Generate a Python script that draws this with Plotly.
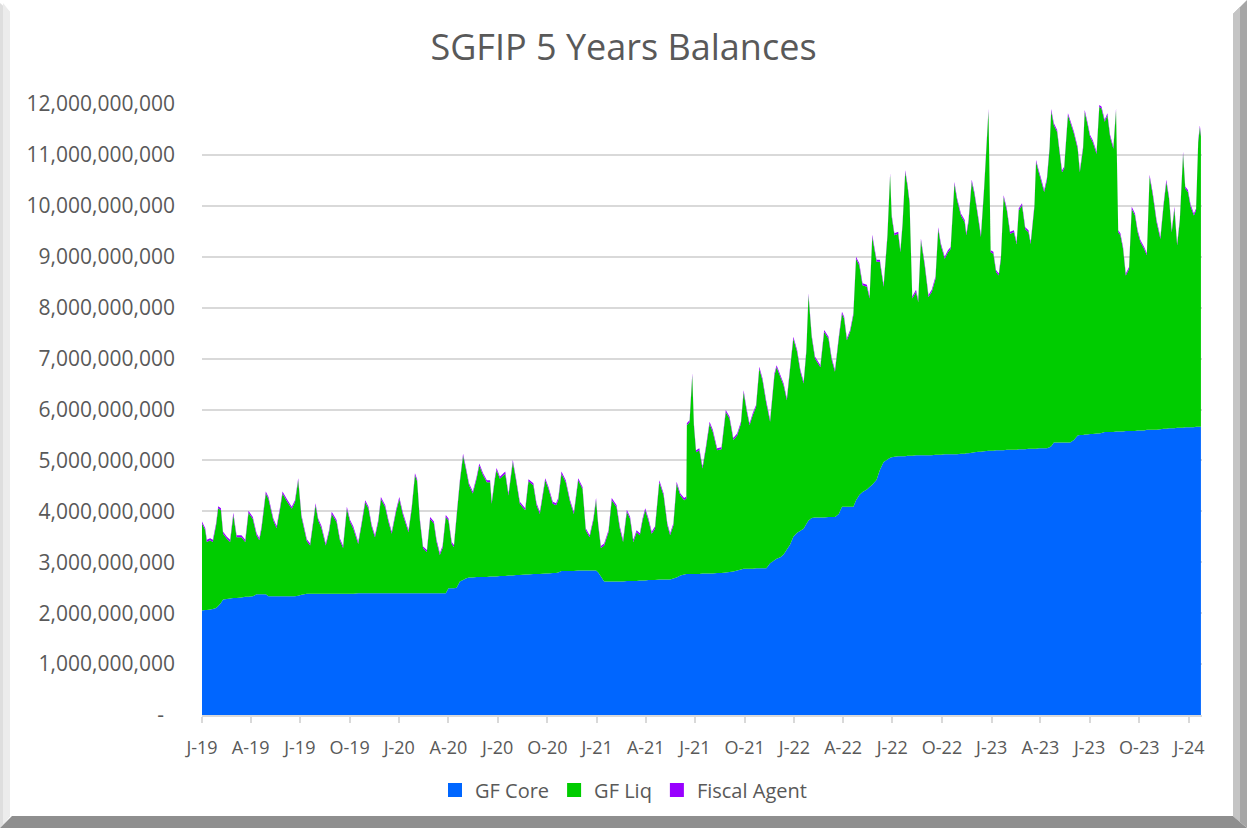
import pandas as pd
import plotly.graph_objects as go

# days since 2019-01-01 for each sampled point
day_offset = [
    0, 6, 9, 15, 20, 26, 30, 35, 39, 46, 52, 58, 64, 73, 80, 86, 94, 101, 106, 110,
    118, 123, 132, 138, 144, 149, 157, 166, 172, 178, 184, 194, 200, 206, 210, 215, 221, 229, 235, 240,
    249, 255, 261, 268, 274, 280, 289, 295, 302, 308, 314, 320, 326, 331, 339, 345, 351, 359, 365, 372,
    382, 388, 394, 398, 403, 409, 416, 422,
    429, 434, 440, 445, 451, 456, 462, 466, 471, 477, 483, 488, 494, 501, 508, 513, 520, 527, 533, 536,
    542, 545, 551, 561, 567, 575, 581, 588, 598, 604, 613, 619, 625, 635, 641, 649, 655, 659, 665, 673,
    681, 688, 696, 704, 710, 717, 724, 729, 733, 738, 744, 752, 758, 767, 773, 779, 786, 792, 798, 804,
    810, 815, 820, 826, 832, 838, 846, 854, 861, 866, 872, 878, 885, 892, 896,
    897, 902, 907, 910, 914, 920, 926, 932, 939, 945, 953, 961, 969, 976, 983, 990, 997, 1002, 1008, 1013,
    1019, 1025, 1031, 1037, 1044, 1051, 1059, 1063, 1070, 1076, 1082, 1088, 1094, 1101, 1107, 1113, 1118, 1122, 1128, 1134,
    1144, 1151, 1159, 1165, 1171, 1178, 1184, 1188, 1193, 1199, 1205, 1210, 1216, 1222, 1230, 1235,
    1240, 1248, 1254, 1261, 1268, 1273, 1276, 1281, 1288, 1292, 1296, 1301, 1305, 1309, 1314, 1321, 1325, 1330, 1337, 1344,
    1350, 1357, 1362, 1367, 1374, 1380, 1385, 1392, 1397, 1404, 1411, 1414, 1418, 1424, 1429, 1436, 1441, 1447, 1455, 1459,
    1464, 1469, 1474, 1478, 1483, 1489, 1495, 1502, 1507, 1511, 1517, 1523, 1529, 1533, 1540, 1543, 1548, 1553, 1558, 1563,
    1568, 1571, 1576, 1582, 1586, 1591, 1595, 1602, 1606, 1613, 1620, 1624, 1630, 1633, 1638, 1643, 1648, 1655, 1660, 1664,
    1670, 1675, 1680, 1686, 1691, 1695, 1699, 1704, 1709, 1715, 1720, 1726, 1731, 1736, 1743, 1748, 1753, 1759, 1766, 1773,
    1779, 1784, 1789, 1794, 1799, 1804, 1809, 1815, 1819, 1824, 1829, 1835, 1839, 1843, 1846, 1848,
]

# balances in billions
gf_core = [
    2.05, 2.06, 2.06, 2.07, 2.08, 2.10, 2.14, 2.20, 2.27, 2.28, 2.29, 2.30, 2.30, 2.31, 2.32, 2.32, 2.33,
    2.37, 2.37, 2.37, 2.37, 2.33, 2.33, 2.33, 2.33, 2.33, 2.33, 2.33, 2.33, 2.34, 2.36,
    2.38, 2.38, 2.38, 2.38, 2.38, 2.38, 2.38, 2.38, 2.38, 2.38, 2.38, 2.38, 2.38, 2.38, 2.38,
    2.39, 2.39, 2.39, 2.39, 2.39, 2.39, 2.39, 2.39, 2.39, 2.39, 2.39, 2.39, 2.39, 2.39, 2.39, 2.39,
    2.39, 2.39, 2.39, 2.39, 2.39, 2.39,
    2.39, 2.39, 2.39, 2.39, 2.39, 2.49, 2.49, 2.49, 2.50, 2.62, 2.65, 2.68, 2.70, 2.70,
    2.71, 2.71, 2.71, 2.71, 2.72, 2.72, 2.72, 2.72, 2.73, 2.73, 2.74, 2.74, 2.75, 2.75, 2.76, 2.76,
    2.77, 2.77, 2.77, 2.78, 2.78, 2.79, 2.79, 2.80, 2.83, 2.83, 2.83, 2.83,
    2.84, 2.84, 2.84, 2.84, 2.84, 2.84, 2.80, 2.72, 2.62, 2.62, 2.62, 2.62, 2.62, 2.62,
    2.63, 2.63, 2.63, 2.63, 2.64, 2.64, 2.64, 2.65, 2.65, 2.65, 2.66, 2.66, 2.66, 2.66,
    2.68, 2.70, 2.74, 2.76, 2.77,
    2.77, 2.77, 2.77, 2.77, 2.77, 2.77, 2.78, 2.78, 2.78, 2.78, 2.79, 2.79, 2.80, 2.81, 2.82, 2.84,
    2.86, 2.87, 2.87, 2.87, 2.87, 2.88, 2.88, 2.88, 2.88, 2.98, 3.04, 3.07, 3.10, 3.15, 3.25, 3.35,
    3.50, 3.58, 3.62, 3.66, 3.75, 3.82, 3.87, 3.88, 3.88, 3.88, 3.89, 3.89, 3.89, 3.95,
    4.09, 4.09, 4.09, 4.09, 4.09, 4.22, 4.32, 4.38, 4.43, 4.48,
    4.52, 4.62, 4.81, 4.97, 5.02, 5.05, 5.06, 5.07, 5.08, 5.08, 5.08, 5.08, 5.09, 5.09, 5.09,
    5.10, 5.10, 5.10, 5.10, 5.10, 5.10, 5.11, 5.11, 5.11, 5.12, 5.12, 5.12, 5.12, 5.12,
    5.13, 5.13, 5.14, 5.14, 5.15, 5.16, 5.17, 5.17, 5.18, 5.19, 5.19, 5.19,
    5.20, 5.20, 5.20, 5.20, 5.21, 5.21, 5.21, 5.21, 5.22, 5.22, 5.22, 5.23, 5.23, 5.23, 5.23,
    5.24, 5.24, 5.24, 5.24, 5.26, 5.28, 5.35, 5.35, 5.35, 5.35, 5.35, 5.35, 5.35, 5.40, 5.49,
    5.50, 5.50, 5.51, 5.51, 5.52, 5.52, 5.53, 5.53, 5.54, 5.56, 5.56, 5.56, 5.56,
    5.57, 5.57, 5.57, 5.57, 5.58, 5.58, 5.58, 5.58, 5.59, 5.59, 5.59, 5.60, 5.60, 5.60, 5.60,
    5.61, 5.62, 5.62, 5.63, 5.63, 5.63, 5.64, 5.64, 5.64, 5.65, 5.65, 5.65, 5.65,
    5.66, 5.66, 5.66, 5.66,
]

gf_liq = [
    1.71, 1.57, 1.34, 1.36, 1.32, 1.62, 1.92, 1.82, 1.29, 1.18, 1.11, 1.63, 1.19, 1.18, 1.08, 1.65, 1.52,
    1.16, 1.06, 1.28, 1.98, 1.91, 1.49, 1.34, 1.69, 2.02, 1.87, 1.72, 1.85, 2.27, 1.53,
    1.03, 0.95, 1.41, 1.74, 1.44, 1.29, 0.95, 1.21, 1.57, 1.41, 1.05, 0.90, 1.67, 1.41, 1.28,
    0.97, 1.33, 1.79, 1.66, 1.30, 1.10, 1.40, 1.85, 1.69, 1.40, 1.17, 1.60, 1.85, 1.53, 1.20, 1.66,
    2.32, 2.20, 1.43, 0.88, 0.81, 1.46,
    1.37, 1.01, 0.75, 0.89, 1.50, 1.33, 0.87, 0.81, 1.39, 1.95, 2.44, 2.16, 1.81, 1.65,
    1.93, 2.19, 2.00, 1.86, 1.85, 1.43, 1.92, 2.09, 1.91, 2.01, 1.57, 2.23, 1.86, 1.40, 1.26, 1.83,
    1.74, 1.35, 1.18, 1.83, 1.66, 1.36, 1.33, 1.42, 1.91, 1.74, 1.35, 1.12,
    1.77, 1.60, 0.79, 0.65, 0.98, 1.38, 0.92, 0.56, 0.71, 0.97, 1.60, 1.46, 1.04, 0.78,
    1.36, 1.22, 0.77, 0.96, 0.89, 1.18, 1.38, 1.17, 0.91, 1.01, 1.91, 1.65, 1.06, 0.87,
    1.04, 1.84, 1.57, 1.46, 1.48,
    2.92, 2.98, 3.90, 2.92, 2.39, 2.43, 2.06, 2.44, 2.94, 2.78, 2.41, 2.43, 3.15, 3.01, 2.58, 2.65,
    2.86, 3.47, 3.08, 2.82, 3.02, 3.17, 3.92, 3.69, 3.24, 2.78, 3.63, 3.76, 3.54, 3.32, 2.93, 3.45,
    3.89, 3.55, 3.12, 2.85, 3.38, 4.42, 3.55, 3.12, 2.95, 3.64, 3.50, 3.08, 2.85, 3.44,
    3.79, 3.69, 3.27, 3.43, 3.76, 4.74, 4.51, 4.06, 3.98, 3.70,
    4.87, 4.28, 4.09, 3.44, 4.37, 5.55, 4.72, 4.35, 4.37, 4.01, 4.54, 5.58, 5.31, 4.96, 3.09,
    3.21, 3.01, 4.22, 3.73, 3.11, 3.21, 3.46, 4.43, 4.11, 3.84, 3.97, 4.03, 5.31, 4.99,
    4.68, 4.55, 4.28, 4.54, 5.32, 5.07, 4.58, 4.22, 5.16, 6.67, 3.90, 3.87,
    3.50, 3.43, 3.76, 4.97, 4.70, 4.24, 4.27, 4.04, 4.69, 4.79, 4.32, 4.25, 4.02, 4.75, 5.63,
    5.42, 5.23, 5.03, 5.26, 5.86, 6.58, 6.23, 6.10, 5.74, 5.31, 5.38, 6.43, 6.30, 6.02, 5.63,
    5.16, 5.62, 6.33, 6.10, 5.83, 5.73, 5.49, 6.41, 6.37, 6.09, 6.22, 5.79, 5.56,
    6.30, 3.91, 3.85, 3.58, 3.05, 3.18, 4.36, 4.23, 3.89, 3.70, 3.56, 3.43, 4.97, 4.61, 4.08,
    3.74, 4.39, 4.85, 4.51, 3.85, 4.31, 3.58, 4.07, 5.38, 4.69, 4.62, 4.33, 4.16,
    4.25, 5.59, 5.88, 5.70,
]

fiscal_agent = [
    0.04, 0.04, 0.04, 0.04, 0.04, 0.04, 0.04, 0.04, 0.04, 0.04, 0.04, 0.04, 0.04, 0.04, 0.04, 0.04, 0.04, 0.04, 0.04, 0.04,
    0.04, 0.04, 0.04, 0.04, 0.04, 0.04, 0.04, 0.04, 0.04, 0.04, 0.04, 0.04, 0.04, 0.04, 0.04, 0.04, 0.04, 0.04, 0.04, 0.04,
    0.04, 0.04, 0.04, 0.04, 0.04, 0.04, 0.04, 0.04, 0.04, 0.04, 0.04, 0.04, 0.04, 0.04, 0.04, 0.04, 0.04, 0.04, 0.04, 0.04,
    0.04, 0.04, 0.04, 0.04, 0.04, 0.04, 0.04, 0.04, 0.04, 0.04, 0.04, 0.04, 0.04, 0.04, 0.04, 0.04, 0.04, 0.04, 0.04, 0.04,
    0.04, 0.04, 0.04, 0.04, 0.04, 0.04, 0.04, 0.04, 0.04, 0.04, 0.04, 0.04, 0.04, 0.04, 0.04, 0.04, 0.04, 0.04, 0.04, 0.04,
    0.04, 0.04, 0.04, 0.04, 0.04, 0.04, 0.04, 0.04, 0.04, 0.04, 0.04, 0.04, 0.04, 0.04, 0.04, 0.04, 0.04, 0.04, 0.04, 0.04,
    0.04, 0.04, 0.04, 0.04, 0.04, 0.04, 0.04, 0.04, 0.04, 0.04, 0.04, 0.04, 0.04, 0.04, 0.04, 0.04, 0.04, 0.04, 0.04, 0.04,
    0.04, 0.04, 0.04, 0.04, 0.04, 0.04, 0.04, 0.04, 0.04, 0.04, 0.04, 0.04, 0.04, 0.04, 0.04, 0.04, 0.04, 0.04, 0.04, 0.04,
    0.04, 0.04, 0.04, 0.04, 0.04, 0.04, 0.04, 0.04, 0.04, 0.04, 0.04, 0.04, 0.04, 0.04, 0.04, 0.04, 0.04, 0.04, 0.04, 0.04,
    0.04, 0.04, 0.04, 0.04, 0.04, 0.04, 0.04, 0.04, 0.04, 0.04, 0.04, 0.04, 0.04, 0.04, 0.04, 0.04, 0.04, 0.04, 0.04, 0.04,
    0.04, 0.04, 0.04, 0.04, 0.04, 0.04, 0.04, 0.04, 0.04, 0.04, 0.04, 0.04, 0.04, 0.04, 0.04, 0.04, 0.04, 0.04, 0.04, 0.04,
    0.04, 0.04, 0.04, 0.04, 0.04, 0.04, 0.04, 0.04, 0.04, 0.04, 0.04, 0.04, 0.04, 0.04, 0.04, 0.04, 0.04, 0.04, 0.04, 0.04,
    0.04, 0.04, 0.04, 0.04, 0.04, 0.04, 0.04, 0.04, 0.04, 0.04, 0.04, 0.04, 0.04, 0.04, 0.04, 0.04, 0.04, 0.04, 0.04, 0.04,
    0.04, 0.04, 0.04, 0.04, 0.04, 0.04, 0.04, 0.04, 0.04, 0.04, 0.04, 0.04, 0.04, 0.04, 0.04, 0.04, 0.04, 0.04, 0.04, 0.04,
    0.04, 0.04, 0.04, 0.04, 0.04, 0.04, 0.04, 0.04, 0.04, 0.04, 0.04, 0.04, 0.04, 0.04, 0.04, 0.04, 0.04, 0.04, 0.04, 0.04,
    0.04, 0.04, 0.04, 0.04, 0.04, 0.04, 0.04, 0.04, 0.04, 0.04, 0.04, 0.04, 0.04, 0.04, 0.04,
]

tick_dates = pd.date_range("2019-01-01", "2024-01-01", freq="QS")
tick_labels = ["J-19", "A-19", "J-19", "O-19", "J-20", "A-20", "J-20", "O-20", "J-21", "A-21", "J-21",
               "O-21", "J-22", "A-22", "J-22", "O-22", "J-23", "A-23", "J-23", "O-23", "J-24"]
y_ticks = list(range(0, 13))
y_labels = ["-\u00a0\u00a0"] + [f"{v * 1_000_000_000:,}" for v in y_ticks[1:]]

series = [("GF Core", gf_core, "#0066FF"), ("GF Liq", gf_liq, "#00CC00"), ("Fiscal Agent", fiscal_agent, "#9900FF")]

dates = pd.to_datetime(day_offset, unit="D", origin="2019-01-01")
TXT = "#595959"
FONT = "Open Sans"

fig = go.Figure()
for name, vals, color in series:
    fig.add_trace(go.Scatter(
        x=dates, y=[v * 1e9 for v in vals],
        mode="none", stackgroup="bal", fillcolor=color,
        name=name, showlegend=False, hoverinfo="x+y+name",
    ))
# square legend keys
for name, _, color in series:
    fig.add_trace(go.Scatter(
        x=[None], y=[None], mode="markers", name=name,
        marker=dict(symbol="square", size=14, color=color),
    ))


def px_x(px):
    return (px - 202) / 1000


def px_y(py):
    return (715 - py) / 611


def poly(points, color):
    path = "M " + " L ".join(f"{px_x(a):.4f},{px_y(b):.4f}" for a, b in points) + " Z"
    return dict(type="path", xref="paper", yref="paper", path=path,
                fillcolor=color, line=dict(width=0), layer="above")


# bevelled frame around the chart
frame = [
    poly([(0, 3), (10, 12), (10, 816), (0, 828)], "#dedede"),
    poly([(3, 3), (10, 12), (10, 816), (3, 825)], "#ececec"),
    poly([(0, 828), (12, 816), (1233, 816), (1247, 828)], "#8f8f8f"),
    poly([(1247, 0), (1233, 14), (1233, 816), (1247, 828)], "#a6a6a6"),
    poly([(1240, 7), (1233, 14), (1233, 816), (1240, 822)], "#c4c4c4"),
]

fig.update_layout(
    width=1247, height=828,
    margin=dict(l=202, r=45, t=104, b=113),
    paper_bgcolor="white", plot_bgcolor="white",
    font=dict(family=FONT, color=TXT),
    title=dict(text="SGFIP 5 Years Balances", x=0.5, xanchor="center", y=0.943, yanchor="middle",
               font=dict(size=36, color=TXT, family=FONT)),
    legend=dict(orientation="h", xref="container", yref="container", x=0.5, xanchor="center",
                y=0.046, yanchor="middle", font=dict(size=20, color=TXT), itemwidth=30,
                traceorder="normal"),
    shapes=frame,
    hovermode="x",
)
fig.update_xaxes(
    type="date", range=["2019-01-01", "2024-01-25"],
    tickvals=tick_dates, ticktext=tick_labels,
    ticks="outside", ticklen=6, tickcolor="#d9d9d9", tickwidth=1.5,
    showline=True, linecolor="#d9d9d9", linewidth=1.5,
    showgrid=False, zeroline=False,
    tickfont=dict(size=18, color=TXT), ticklabelstandoff=10,
)
fig.update_yaxes(
    range=[0, 12e9], tickvals=[v * 1e9 for v in y_ticks], ticktext=y_labels,
    showgrid=True, gridcolor="#d9d9d9", gridwidth=2, zeroline=False, showline=False,
    tickfont=dict(size=21, color=TXT), ticklabelstandoff=26,
)

fig.write_html("out.html", config={"displayModeBar": False},
               post_script="document.body.style.margin='0';")
